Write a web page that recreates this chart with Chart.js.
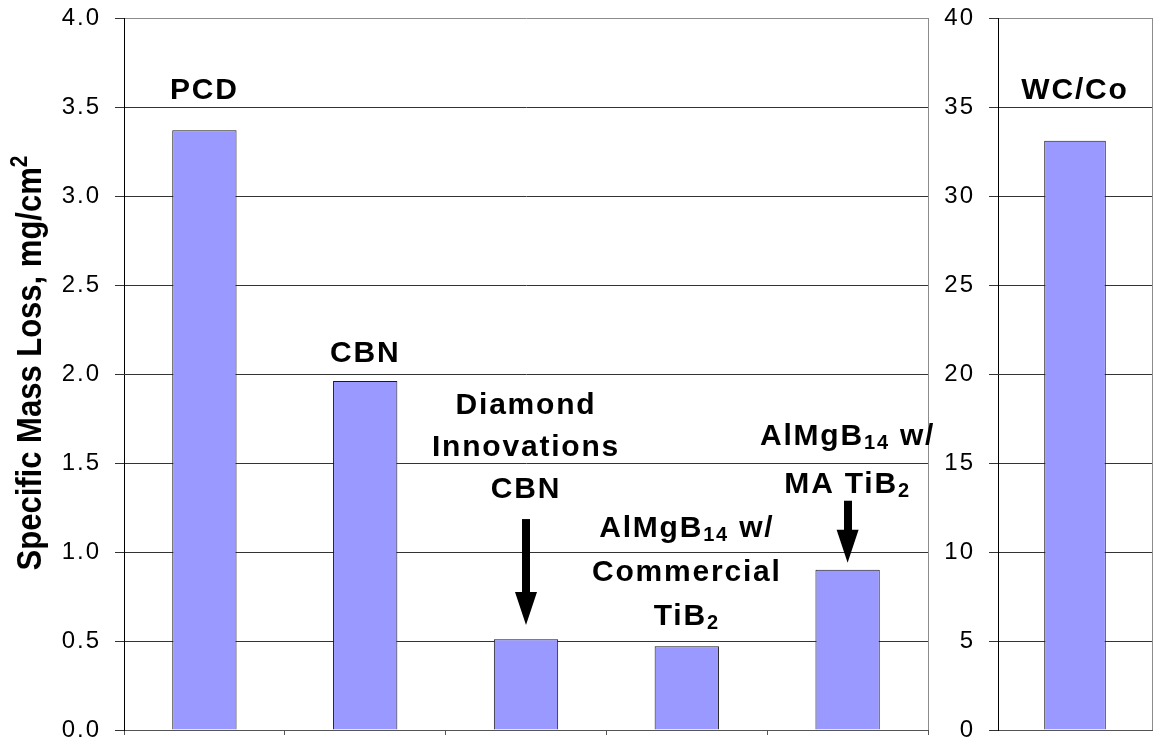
<!DOCTYPE html>
<html lang="en">
<head>
<meta charset="UTF-8">
<title>Specific Mass Loss</title>
<style>
  body { margin: 0; background: #fff; }
  #wrap { position: relative; width: 1157px; height: 744px; }
  #left { position: absolute; left: 0; top: 0; }
  #right { position: absolute; left: 930px; top: 0; }
</style>
</head>
<body>
<div id="wrap">
  <canvas id="left" width="945" height="744"></canvas>
  <canvas id="right" width="227" height="744"></canvas>
</div>
<script src="https://cdn.jsdelivr.net/npm/chart.js@4"></script>
<script>
// left panel, mg/cm2
const materials = ['PCD', 'CBN', 'Diamond Innovations CBN', 'AlMgB14 w/ Commercial TiB2', 'AlMgB14 w/ MA TiB2'];
const massLoss = [3.37, 1.96, 0.51, 0.47, 0.90];
const leftMax = 4.0, leftStep = 0.5;

// right panel has its own scale
const materialsRight = ['WC/Co'];
const massLossRight = [33.1];
const rightMax = 40, rightStep = 5;

// text over the bars, _{..} = subscript, ^{..} = superscript
const barText = [
  ['PCD'],
  ['CBN'],
  ['Diamond', 'Innovations', 'CBN'],
  ['AlMgB_{14} w/', 'Commercial', 'TiB_{2}'],
  ['AlMgB_{14} w/', 'MA TiB_{2}']
];
const barTextRight = [['WC/Co']];

const axisTitle = 'Specific Mass Loss, mg/cm^{2}';

// where the text sits (baseline of first line, in axis units) and arrows
const textPlace = [
  { y: 3.545 },
  { y: 2.067 },
  { y: 1.774, lh: 42, arrow: [1.185, 0.59] },
  { y: 1.086, lh: 44 },
  { y: 1.601, lh: 48, arrow: [1.288, 0.94] }
];
const textPlaceRight = [{ y: 35.43 }];

const FONT = "'Liberation Sans', Arial, sans-serif";

function parseRich(str) {
  const out = [];
  str.split(/([_^]\{[^}]*\})/).forEach(p => {
    if (!p) return;
    if (p.startsWith('_{')) out.push({ t: p.slice(2, -1), shift: 4 });
    else if (p.startsWith('^{')) out.push({ t: p.slice(2, -1), shift: -12 });
    else out.push({ t: p, shift: 0 });
  });
  return out;
}

function drawRich(ctx, str, cx, y, size, small) {
  const parts = parseRich(str);
  let w = 0;
  parts.forEach(p => {
    ctx.font = 'bold ' + (p.shift ? small : size) + 'px ' + FONT;
    p.w = ctx.measureText(p.t).width;
    w += p.w;
  });
  let x = cx - w / 2;
  parts.forEach(p => {
    ctx.font = 'bold ' + (p.shift ? small : size) + 'px ' + FONT;
    ctx.fillText(p.t, x, y + p.shift);
    x += p.w;
  });
}

function drawArrow(ctx, x, y0, y1) {
  const head = 33, shaft = 8, hw = 11;
  ctx.fillRect(Math.round(x) - shaft / 2, y0, shaft, y1 - head - y0 + 1);
  ctx.beginPath();
  ctx.moveTo(x - hw, y1 - head);
  ctx.lineTo(x + hw, y1 - head);
  ctx.lineTo(x, y1);
  ctx.closePath();
  ctx.fill();
}

function textPlugin(lines, places, withTitle) {
  return {
    id: 'barText',
    beforeDraw(chart) {
      // wider tick text like the original
      chart.ctx.letterSpacing = '2px';
    },
    afterDraw(chart) {
      const ctx = chart.ctx, meta = chart.getDatasetMeta(0), ys = chart.scales.y, area = chart.chartArea;
      ctx.save();
      // frame on the right side of the plot
      ctx.strokeStyle = '#8c8c8c';
      ctx.lineWidth = 1;
      ctx.beginPath();
      ctx.moveTo(Math.round(area.right) + 0.5, area.top);
      ctx.lineTo(Math.round(area.right) + 0.5, area.bottom);
      ctx.stroke();

      ctx.fillStyle = '#000';
      ctx.textAlign = 'left';
      ctx.textBaseline = 'alphabetic';
      ctx.letterSpacing = '1.8px';
      lines.forEach((ls, i) => {
        const pl = places[i];
        const cx = meta.data[i].x;
        const by = ys.getPixelForValue(pl.y);
        ls.forEach((s, k) => drawRich(ctx, s, cx, by + k * (pl.lh || 0), 30, 20));
        if (pl.arrow) drawArrow(ctx, cx, ys.getPixelForValue(pl.arrow[0]), ys.getPixelForValue(pl.arrow[1]));
      });

      if (withTitle) {
        ctx.letterSpacing = '0px';
        ctx.translate(41, (area.top + area.bottom) / 2 - 11);
        ctx.rotate(-Math.PI / 2);
        ctx.scale(1, 1.15);
        drawRich(ctx, axisTitle, 0, 0, 31, 21);
      }
      ctx.restore();
    }
  };
}

function makeChart(id, labels, values, max, step, yWidth, padRight, lines, places, withTitle, tickFmt) {
  return new Chart(document.getElementById(id), {
    type: 'bar',
    data: {
      labels: labels,
      datasets: [{
        data: values,
        backgroundColor: '#9999ff',
        borderColor: '#1a1a1a',
        borderWidth: 1,
        barPercentage: 0.4,
        categoryPercentage: 1.0
      }]
    },
    options: {
      responsive: false,
      animation: false,
      layout: { padding: { top: 18, right: padRight, left: 0, bottom: 0 } },
      plugins: { legend: { display: false }, tooltip: { enabled: false } },
      scales: {
        x: {
          ticks: { display: false },
          grid: { display: true, drawOnChartArea: false, offset: true, tickLength: 5, color: '#555', drawTicks: withTitle },
          border: { color: '#555' },
          afterFit: s => { s.height = 14; s.paddingLeft = 0; s.paddingRight = 0; }
        },
        y: {
          min: 0,
          max: max,
          ticks: {
            stepSize: step,
            padding: 14,
            color: '#000',
            font: { family: FONT, size: 24 },
            callback: tickFmt
          },
          grid: {
            color: c => (c.tick && c.tick.value === max) ? '#8c8c8c' : '#333',
            tickColor: '#333',
            tickLength: 9
          },
          border: { color: '#000' },
          afterFit: s => { s.width = yWidth; s.paddingTop = 0; s.paddingBottom = 0; }
        }
      }
    },
    plugins: [textPlugin(lines, places, withTitle)]
  });
}

makeChart('left', materials, massLoss, leftMax, leftStep, 124, 17, barText, textPlace, true, v => v.toFixed(1));
makeChart('right', materialsRight, massLossRight, rightMax, rightStep, 68, 5, barTextRight, textPlaceRight, false, v => String(v));
</script>
</body>
</html>
